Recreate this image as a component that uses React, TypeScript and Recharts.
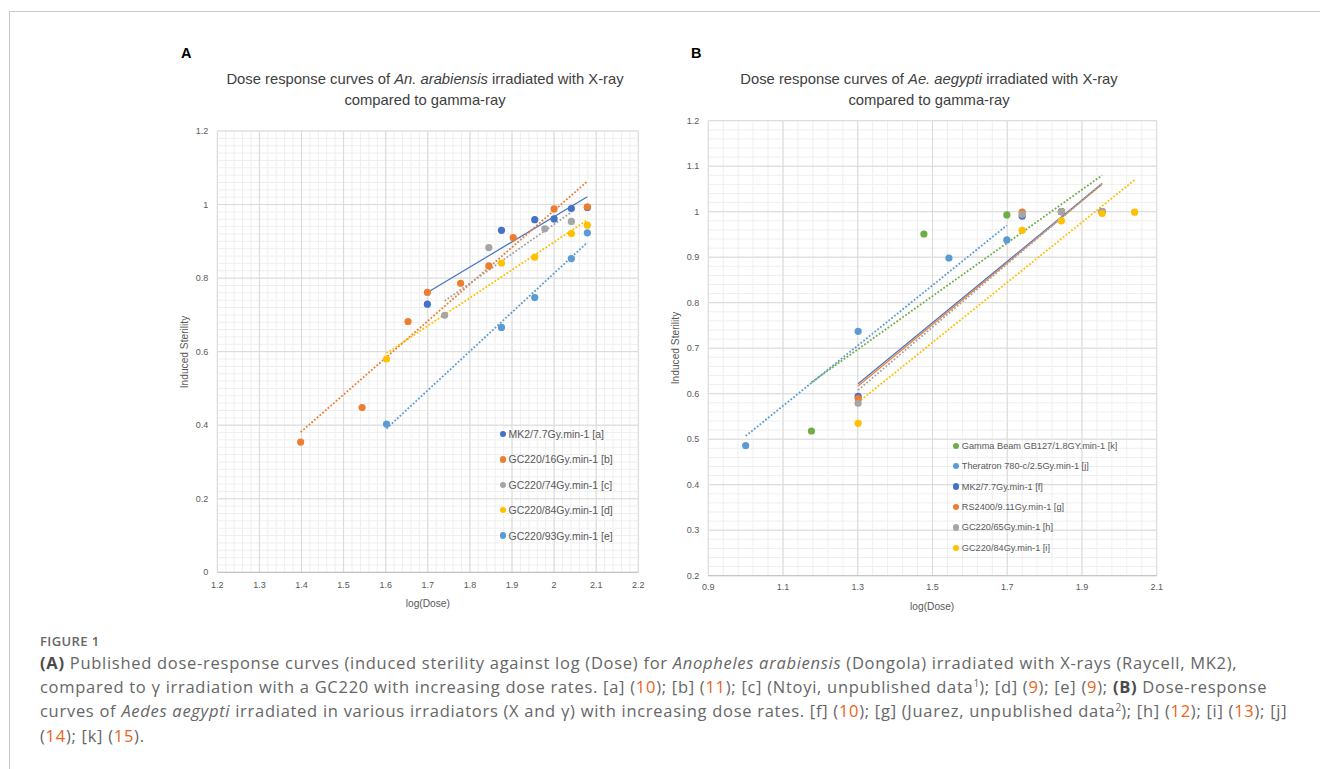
import React from 'react';
import { ScatterChart, Scatter, XAxis, YAxis, CartesianGrid, Legend } from 'recharts';

type Pt = [number, number];

// ---------- Panel A: An. arabiensis (x = log(Dose), y = induced sterility) ----------
const aNames = ['MK2/7.7Gy.min-1 [a]', 'GC220/16Gy.min-1 [b]', 'GC220/74Gy.min-1 [c]', 'GC220/84Gy.min-1 [d]', 'GC220/93Gy.min-1 [e]'];
const aMK2: Pt[] = [[1.699, 0.729], [1.875, 0.930], [1.954, 0.959], [2.0, 0.961], [2.041, 0.989], [2.079, 0.992]];
const aGC16: Pt[] = [[1.398, 0.354], [1.544, 0.448], [1.653, 0.682], [1.699, 0.761], [1.778, 0.786], [1.845, 0.833], [1.903, 0.910], [2.0, 0.988], [2.079, 0.994]];
const aGC74: Pt[] = [[1.740, 0.699], [1.845, 0.883], [1.978, 0.934], [2.041, 0.954]];
const aGC84: Pt[] = [[1.602, 0.580], [1.875, 0.841], [1.954, 0.857], [2.041, 0.921], [2.079, 0.944]];
const aGC93: Pt[] = [[1.602, 0.403], [1.875, 0.666], [1.954, 0.747], [2.041, 0.853], [2.079, 0.923]];
// linear trend lines (start, end)
const aTrendMK2: Pt[] = [[1.699, 0.761], [2.079, 1.021]];
const aTrendGC16: Pt[] = [[1.398, 0.381], [2.079, 1.063]];
const aTrendGC74: Pt[] = [[1.740, 0.738], [2.041, 0.979]];
const aTrendGC84: Pt[] = [[1.602, 0.596], [2.079, 0.958]];
const aTrendGC93: Pt[] = [[1.602, 0.391], [2.079, 0.897]];
const aXTicks = [1.2, 1.3, 1.4, 1.5, 1.6, 1.7, 1.8, 1.9, 2, 2.1, 2.2];
const aYTicks = [0, 0.2, 0.4, 0.6, 0.8, 1, 1.2];

// ---------- Panel B: Ae. aegypti ----------
const bNames = ['Gamma Beam GB127/1.8GY.min-1 [k]', 'Theratron 780-c/2.5Gy.min-1 [j]', 'MK2/7.7Gy.min-1 [f]', 'RS2400/9.11Gy.min-1 [g]', 'GC220/65Gy.min-1 [h]', 'GC220/84Gy.min-1 [i]'];
const bGamma: Pt[] = [[1.176, 0.518], [1.477, 0.951], [1.699, 0.993], [1.845, 1.0], [1.954, 1.0]];
const bTheratron: Pt[] = [[1.0, 0.486], [1.301, 0.737], [1.544, 0.898], [1.699, 0.938]];
const bMK2: Pt[] = [[1.301, 0.594], [1.740, 0.990], [1.845, 1.0], [1.954, 1.0]];
const bRS2400: Pt[] = [[1.301, 0.589], [1.740, 0.999], [1.845, 1.0], [1.954, 1.0]];
const bGC65: Pt[] = [[1.301, 0.579], [1.740, 0.994], [1.845, 1.0], [1.954, 1.0]];
const bGC84: Pt[] = [[1.301, 0.535], [1.740, 0.959], [1.845, 0.980], [1.954, 0.996], [2.041, 0.999]];
const bTrendGamma: Pt[] = [[1.176, 0.625], [1.954, 1.080]];
const bTrendTheratron: Pt[] = [[1.0, 0.507], [1.699, 0.970]];
const bTrendMK2: Pt[] = [[1.301, 0.622], [1.954, 1.062]];
const bTrendRS2400: Pt[] = [[1.301, 0.617], [1.954, 1.060]];
const bTrendGC65: Pt[] = [[1.301, 0.608], [1.954, 1.062]];
const bTrendGC84: Pt[] = [[1.301, 0.581], [2.041, 1.070]];
const bXTicks = [0.9, 1.1, 1.3, 1.5, 1.7, 1.9, 2.1];
const bYTicks = [0.2, 0.3, 0.4, 0.5, 0.6, 0.7, 0.8, 0.9, 1, 1.1, 1.2];

// ---------- styling ----------
const BLUE = '#4472C4', ORANGE = '#ED7D31', GRAY = '#A5A5A5', GOLD = '#FFC000', LBLUE = '#5B9BD5', GREEN = '#70AD47';
const CHART_FONT = "'Liberation Sans', Arial, sans-serif";
const TEXT = '#595959';

const grid = (a: number, b: number, step: number) => {
  const out: number[] = [];
  const n = Math.round((b - a) / step);
  for (let i = 0; i <= n; i++) out.push(Math.round((a + i * step) * 1000) / 1000);
  return out;
};

const toObj = (arr: Pt[]) => arr.map(([x, y]) => ({ x, y }));
const dot = (color: string) => (p: any) => <circle cx={p.cx} cy={p.cy} r={3.6} fill={color} />;
const noDot = () => <g />;

type S = { name: string; color: string; pts: Pt[]; trend: Pt[]; solid: boolean };

const aSeries: S[] = [
  { name: aNames[0], color: BLUE, pts: aMK2, trend: aTrendMK2, solid: true },
  { name: aNames[1], color: ORANGE, pts: aGC16, trend: aTrendGC16, solid: false },
  { name: aNames[2], color: GRAY, pts: aGC74, trend: aTrendGC74, solid: false },
  { name: aNames[3], color: GOLD, pts: aGC84, trend: aTrendGC84, solid: false },
  { name: aNames[4], color: LBLUE, pts: aGC93, trend: aTrendGC93, solid: false },
];
const bSeries: S[] = [
  { name: bNames[0], color: GREEN, pts: bGamma, trend: bTrendGamma, solid: false },
  { name: bNames[1], color: LBLUE, pts: bTheratron, trend: bTrendTheratron, solid: false },
  { name: bNames[2], color: BLUE, pts: bMK2, trend: bTrendMK2, solid: true },
  { name: bNames[3], color: ORANGE, pts: bRS2400, trend: bTrendRS2400, solid: true },
  { name: bNames[4], color: GRAY, pts: bGC65, trend: bTrendGC65, solid: false },
  { name: bNames[5], color: GOLD, pts: bGC84, trend: bTrendGC84, solid: false },
];

function makeLegend(series: S[], left: number, top: number, rowH: number, fontSize: number) {
  return () => (
    <div style={{ position: 'absolute', left, top, fontFamily: CHART_FONT, fontSize, color: TEXT }}>
      {series.map((s) => (
        <div key={s.name} style={{ height: rowH, display: 'flex', alignItems: 'center', whiteSpace: 'nowrap' }}>
          <span style={{ display: 'inline-block', width: 6.4, height: 6.4, borderRadius: '50%', background: s.color, marginRight: 2.6 }} />
          <span>{s.name}</span>
        </div>
      ))}
    </div>
  );
}

function Panel(props: {
  series: S[]; width: number; height: number; margin: any; xDomain: [number, number]; yDomain: [number, number];
  xTicks: number[]; yTicks: number[]; xMinor: number[]; yMinor: number[]; legend: () => React.ReactElement; xTickMargin: number;
}) {
  const { series } = props;
  return (
    <ScatterChart width={props.width} height={props.height} margin={props.margin} style={{ fontFamily: CHART_FONT }}>
      <CartesianGrid stroke="#EFEFEF" strokeWidth={1} fill="none" horizontalValues={props.yMinor} verticalValues={props.xMinor} />
      <CartesianGrid stroke="#D9D9D9" strokeWidth={1} fill="none" />
      <XAxis type="number" dataKey="x" domain={props.xDomain} ticks={props.xTicks} interval={0} allowDataOverflow
        axisLine={{ stroke: '#BFBFBF' }} tickLine={false} tickMargin={props.xTickMargin} height={20}
        tick={{ fill: TEXT, fontSize: 9 }} />
      <YAxis type="number" dataKey="y" domain={props.yDomain} ticks={props.yTicks} interval={0} allowDataOverflow
        axisLine={false} tickLine={false} width={40} tickMargin={3} tick={{ fill: TEXT, fontSize: 9 }} />
      {series.map((s, i) => (
        <Scatter key={'t' + i} data={toObj(s.trend)} shape={noDot} isAnimationActive={false} legendType="none"
          line={s.solid ? { stroke: s.color, strokeWidth: 1.2 } : { stroke: s.color, strokeWidth: 1.8, strokeDasharray: '1.8 1.8' }} />
      ))}
      {series.map((s, i) => (
        <Scatter key={'p' + i} name={s.name} data={toObj(s.pts)} fill={s.color} shape={dot(s.color)} isAnimationActive={false} />
      ))}
      <Legend layout="vertical" align="center" verticalAlign="middle" content={props.legend}
        wrapperStyle={{ left: 0, top: 0, width: 0, height: 0 }} />
    </ScatterChart>
  );
}

const abs = (left: number, top: number, extra: React.CSSProperties = {}): React.CSSProperties => ({ position: 'absolute', left, top, ...extra });
const L = ({ children }: { children: React.ReactNode }) => <span style={{ color: '#E8651A' }}>{children}</span>;

export default function App() {
  const titleStyle: React.CSSProperties = { fontFamily: CHART_FONT, fontSize: 14.8, color: '#404040', textAlign: 'center', lineHeight: '21px', whiteSpace: 'nowrap' };
  const axisTitle: React.CSSProperties = { fontFamily: CHART_FONT, fontSize: 10.2, color: TEXT, whiteSpace: 'nowrap' };
  const cap: React.CSSProperties = { fontFamily: "'Open Sans', sans-serif", fontSize: 16.5, letterSpacing: 0.72, color: '#666', whiteSpace: 'nowrap', height: 24.4, lineHeight: '24.4px' };
  const sup: React.CSSProperties = { fontSize: 10, lineHeight: 0, letterSpacing: 0 };
  return (
    <div style={{ position: 'absolute', left: 0, top: 0, width: 1320, height: 769, background: '#fff', overflow: 'hidden' }}>
      <div style={abs(9, 10.5, { width: 1320, height: 770, borderTop: '1.3px solid #c8c8c8', borderLeft: '1.3px solid #c8c8c8' })} />

      {/* Panel A */}
      <div style={abs(181, 45, { fontFamily: CHART_FONT, fontWeight: 700, fontSize: 14.5, color: '#000' })}>A</div>
      <div style={abs(225, 68.5, { ...titleStyle, width: 400 })}>
        <div>Dose response curves of <i>An. arabiensis</i> irradiated with X-ray</div>
        <div>compared to gamma-ray</div>
      </div>
      <div style={abs(170, 110)}>
        <Panel series={aSeries} width={490} height={500} margin={{ top: 21, left: 7.3, right: 21.7, bottom: 17.7 }}
          xDomain={[1.2, 2.2]} yDomain={[0, 1.2]} xTicks={aXTicks} yTicks={aYTicks}
          xMinor={grid(1.2, 2.2, 0.02)} yMinor={grid(0, 1.2, 0.02)} xTickMargin={3}
          legend={makeLegend(aSeries, 329.5, 311.3, 25.4, 10.5)} />
      </div>
      <div style={abs(184, 351.5, { ...axisTitle, transform: 'translate(-50%,-50%) rotate(-90deg)' })}>Induced Sterility</div>
      <div style={abs(427.8, 602.7, { ...axisTitle, transform: 'translate(-50%,-50%)' })}>log(Dose)</div>

      {/* Panel B */}
      <div style={abs(691, 45, { fontFamily: CHART_FONT, fontWeight: 700, fontSize: 14.5, color: '#000' })}>B</div>
      <div style={abs(729, 68.5, { ...titleStyle, width: 400 })}>
        <div>Dose response curves of <i>Ae. aegypti</i> irradiated with X-ray</div>
        <div>compared to gamma-ray</div>
      </div>
      <div style={abs(660, 100)}>
        <Panel series={bSeries} width={520} height={510} margin={{ top: 20.7, left: 8.3, right: 23.3, bottom: 14.3 }}
          xDomain={[0.9, 2.1]} yDomain={[0.2, 1.2]} xTicks={bXTicks} yTicks={bYTicks}
          xMinor={grid(0.9, 2.1, 0.04)} yMinor={grid(0.2, 1.2, 0.02)} xTickMargin={2}
          legend={makeLegend(bSeries, 292.8, 335.5, 20.45, 9.2)} />
      </div>
      <div style={abs(675, 348, { ...axisTitle, transform: 'translate(-50%,-50%) rotate(-90deg)' })}>Induced Sterility</div>
      <div style={abs(932.2, 606, { ...axisTitle, transform: 'translate(-50%,-50%)' })}>log(Dose)</div>

      {/* Caption */}
      <div style={abs(40, 631.5, { fontFamily: "'Open Sans', sans-serif", fontSize: 13, fontWeight: 600, letterSpacing: 0.4, color: '#666', lineHeight: '18px' })}>FIGURE 1</div>
      <div style={abs(40, 650.5)}>
        <div style={cap}><b style={{ color: '#4a4a4a' }}>(A)</b> Published dose-response curves (induced sterility against log (Dose) for <i>Anopheles arabiensis</i> (Dongola) irradiated with X-rays (Raycell, MK2),</div>
        <div style={cap}>compared to γ irradiation with a GC220 with increasing dose rates. [a] (<L>10</L>); [b] (<L>11</L>); [c] (Ntoyi, unpublished data<sup style={sup}>1</sup>); [d] (<L>9</L>); [e] (<L>9</L>); <b style={{ color: '#4a4a4a' }}>(B)</b> Dose-response</div>
        <div style={cap}>curves of <i>Aedes aegypti</i> irradiated in various irradiators (X and γ) with increasing dose rates. [f] (<L>10</L>); [g] (Juarez, unpublished data<sup style={sup}>2</sup>); [h] (<L>12</L>); [i] (<L>13</L>); [j]</div>
        <div style={cap}>(<L>14</L>); [k] (<L>15</L>).</div>
      </div>
    </div>
  );
}
